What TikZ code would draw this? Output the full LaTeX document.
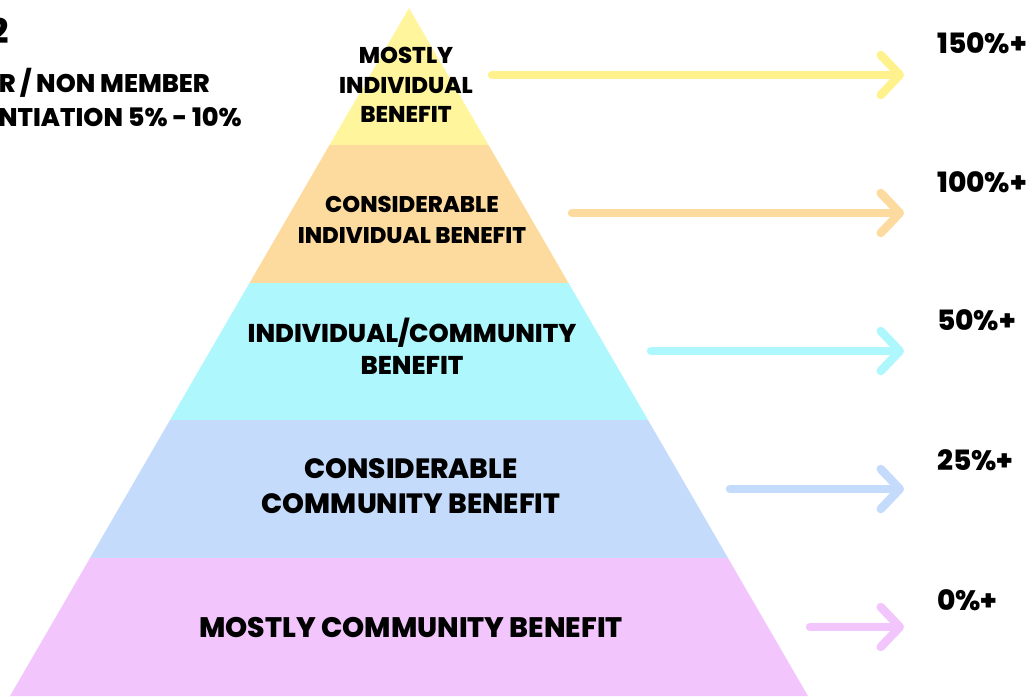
\documentclass[tikz,border=0pt]{standalone}
\usepackage{fontspec}
\setmainfont{Poppins}[BoldFont={Poppins ExtraBold}]
\usetikzlibrary{arrows.meta}

\definecolor{tierA}{HTML}{FFF59D}
\definecolor{tierB}{HTML}{FDDB9F}
\definecolor{tierC}{HTML}{AEF7FC}
\definecolor{tierD}{HTML}{C5DBFB}
\definecolor{tierE}{HTML}{F2C6FD}
\definecolor{arrowA}{HTML}{FFF28C}

\tikzset{
  tiertext/.style={font=\bfseries\fontsize{22.8}{29.5}\selectfont, align=center, inner sep=0pt},
  pcttext/.style={font=\bfseries\fontsize{28}{30}\selectfont, anchor=west, inner sep=0pt},
  sidetext/.style={font=\bfseries\fontsize{25.5}{28}\selectfont, anchor=east, inner sep=0pt},
  tierarrow/.style={line width=8.5pt, line cap=round,
    -{Straight Barb[length=19pt,width=40pt,line cap=round,line join=round]}}
}

\begin{document}
\begin{tikzpicture}[x=1pt,y=-1pt]
\useasboundingbox (0,0) rectangle (1032,696);

% pyramid
\fill[tierA] (409,8) -- (488.5,145) -- (329.5,145) -- cycle;
\fill[tierB] (329.5,145) -- (488.5,145) -- (568.5,283) -- (249.5,283) -- cycle;
\fill[tierC] (249.5,283) -- (568.5,283) -- (648,420) -- (170,420) -- cycle;
\fill[tierD] (170,420) -- (648,420) -- (728,558) -- (90,558) -- cycle;
\fill[tierE] (90,558) -- (728,558) -- (808,696) -- (10,696) -- cycle;

% tier labels
\node[tiertext] (mostind) at (406,85) {MOSTLY\\INDIVIDUAL\\BENEFIT};
\node[tiertext, font=\bfseries\fontsize{22.7}{31}\selectfont] (consind) at (412,219.5) {CONSIDERABLE\\INDIVIDUAL BENEFIT};
\node[tiertext, font=\bfseries\fontsize{25.7}{32}\selectfont] (indcom) at (412,346) {INDIVIDUAL/COMMUNITY\\BENEFIT};
\node[tiertext, font=\bfseries\fontsize{27.9}{35}\selectfont] (conscom) at (411,486.5) {CONSIDERABLE\\COMMUNITY BENEFIT};
\node[tiertext, font=\bfseries\fontsize{28.2}{35}\selectfont] (mostcom) at (411,627) {MOSTLY COMMUNITY BENEFIT};

% percentages
\node[pcttext] (p150) at (937,43) {150\%+};
\node[pcttext] (p100) at (937,182) {100\%+};
\node[pcttext] (p50) at (937,320) {50\%+};
\node[pcttext] (p25) at (937,460) {25\%+};
\node[pcttext] (p0) at (937,600) {0\%+};

% arrows
\coordinate (aA) at (492,75);   \coordinate (bA) at (904,75);
\coordinate (aB) at (572,213);  \coordinate (bB) at (904,213);
\coordinate (aC) at (651,351);  \coordinate (bC) at (904,351);
\coordinate (aD) at (730,489);  \coordinate (bD) at (904,489);
\coordinate (aE) at (810,627);  \coordinate (bE) at (904,627);
\draw[tierarrow, arrowA] (aA) -- (bA);
\draw[tierarrow, tierB] (aB) -- (bB);
\draw[tierarrow, tierC] (aC) -- (bC);
\draw[tierarrow, tierD] (aD) -- (bD);
\draw[tierarrow, tierE] (aE) -- (bE);

% cut-off heading
\node[sidetext, font=\bfseries\fontsize{34}{36}\selectfont] (hnum) at (9,31) {2};
\node[sidetext] (hmem) at (210,83) {R / NON MEMBER};
\node[sidetext] (hdiff) at (242,117) {NTIATION 5\% - 10\%};
\end{tikzpicture}
\end{document}
